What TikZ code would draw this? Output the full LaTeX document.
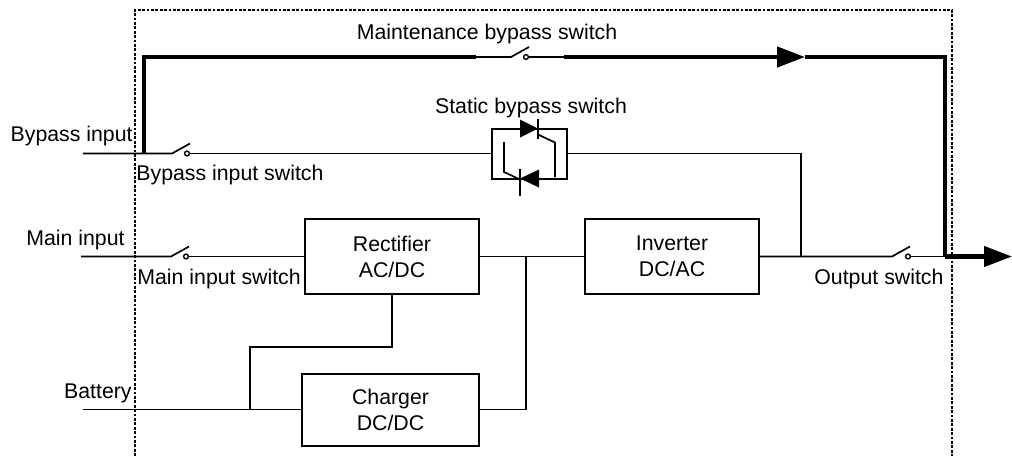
\documentclass[tikz,border=0pt]{standalone}
\usepackage{fontspec}
\setmainfont{Liberation Sans}
\usetikzlibrary{arrows.meta,positioning,calc}

\tikzset{
	block/.style={rectangle,draw,line width=1pt,minimum width=87pt,minimum height=37.5pt,align=center,inner sep=0pt},
	contact/.style={circle,draw,line width=0.7pt,fill=white,inner sep=0pt,minimum size=2.4pt},
	wire/.style={line width=0.85pt},
	busline/.style={line width=2.2pt},
	txt/.style={inner sep=0pt},
	frame/.style={line width=1.1pt,dash pattern=on 1.4pt off 0.8pt},
}

\begin{document}
\begin{tikzpicture}[x=0.5pt,y=-0.5pt,font=\fontsize{10.65}{13}\selectfont,
		>={Triangle[length=14pt,width=10pt]}]
		\useasboundingbox (0,0) rectangle (1012,456);

		\draw[frame] (135,456) -- (135,10) -- (952,10) -- (952,456);

		\begin{scope}[every node/.style={block}]
			\node (rect) at (392,256.5) {Rectifier\\AC/DC};
			\node (inv) at (672,256.5) {Inverter\\DC/AC};
			\node[minimum width=88.5pt,minimum height=36pt] (chg) at (390.5,409.5) {Charger\\DC/DC};
			\node[minimum width=37.5pt,minimum height=25pt] (sbs) at (529.5,153.5) {};
		\end{scope}

		\begin{scope}[every node/.style={contact}]
			\node (bisw) at (187,153.5) {};
			\node (misw) at (186,256.5) {};
			\node (mbsw) at (526,57) {};
			\node (osw) at (908,256.5) {};
		\end{scope}

		\begin{scope}[every node/.style={txt}]
			\node[anchor=base] (mbslbl) at (487,39) {Maintenance bypass switch};
			\node[anchor=base] (sbslbl) at (531,113) {Static bypass switch};
			\node[anchor=base east] (bypinlbl) at (133,141) {Bypass input};
			\node[anchor=base west] (bislbl) at (136,180) {Bypass input switch};
			\node[anchor=base east] (mainlbl) at (125,245) {Main input};
			\node[anchor=base west] (mislbl) at (137,284) {Main input switch};
			\node[anchor=base east] (batlbl) at (132,398) {Battery};
			\node[anchor=base west] (oslbl) at (814,284) {Output switch};
		\end{scope}

		\coordinate (bypin) at (83,153.5);
		\coordinate (bisopen) at (172,153.5);
		\coordinate (mainin) at (81,256.5);
		\coordinate (misopen) at (171,256.5);
		\coordinate (batin) at (83,409.5);
		\coordinate (battap) at (250,409.5);
		\coordinate (batup) at (250,347);
		\coordinate (dcbus) at (526,256.5);
		\coordinate (sbjoin) at (801,256.5);
		\coordinate (osopen) at (892,256.5);
		\coordinate (mbtap) at (144,153.5);
		\coordinate (mbleft) at (144,57);
		\coordinate (mbthin) at (476,57);
		\coordinate (mbopen) at (511,57);
		\coordinate (mbthick) at (564,57);
		\coordinate (mbarrow) at (805,57);
		\coordinate (mbcorner) at (945,57);
		\coordinate (outcorner) at (945,256.5);
		\coordinate (outend) at (1012,256.5);

		% static bypass switch
		\begin{scope}[shift={(sbs.center)},line width=0.85pt]
			\fill (-9.5,-34) -- (-9.5,-16) -- (8.5,-25) -- cycle;
			\draw (8.5,-35) -- (8.5,-15);
			\draw (8.5,-19) -- (25.5,-11) -- (25.5,23.5);
			\fill (9.5,16) -- (9.5,34) -- (-9.5,25) -- cycle;
			\draw (-9.5,15) -- (-9.5,42);
			\draw (-25.5,-11.5) -- (-25.5,18.5) -- (-9.5,26);
		\end{scope}

		\begin{scope}[wire]
			\draw (bypin) -- (bisopen) -- ++(18,-10);
			\draw (bisw.east) -- (sbs.west);
			\draw (sbs.east) -| (sbjoin);
			\draw (mainin) -- (misopen) -- ++(18,-10);
			\draw (misw.east) -- (rect.west);
			\draw (rect.east) -- (inv.west);
			\draw (dcbus) |- (chg.east);
			\draw (rect.south) |- (batup) -- (battap);
			\draw (batin) -- (chg.west);
			\draw (inv.east) -- (osopen) -- ++(18,-10);
			\draw (osw.east) -- (outcorner);
			\draw (mbthin) -- (mbopen) -- ++(18,-10);
			\draw (mbsw.east) -- (mbthick);
		\end{scope}

		\begin{scope}[busline]
			\draw (mbtap) -- (mbleft) -- (mbthin);
			\draw[->] (mbthick) -- (mbarrow);
			\draw (mbarrow) -- (mbcorner) -- (outcorner);
			\draw[->] (outcorner) -- (outend);
		\end{scope}
	\end{tikzpicture}
\end{document}
